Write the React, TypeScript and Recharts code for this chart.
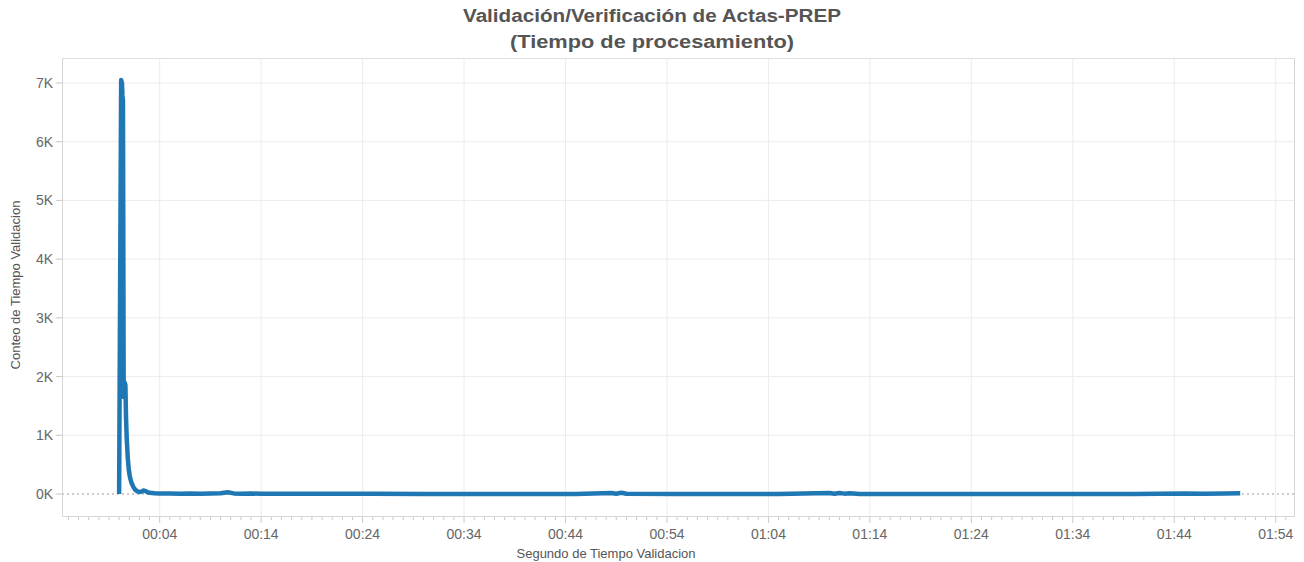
import React from 'react';
import { LineChart, Line, XAxis, YAxis, CartesianGrid, ReferenceLine } from 'recharts';

// Segundo de Tiempo Validacion (segundos)
const segundos = [
  0, 0.1, 0.2, 0.28, 0.33, 0.38, 0.45, 0.55, 0.62, 0.68, 0.75, 0.85, 0.95, 1.05, 1.2, 1.4, 1.6, 1.8,
  2.0, 2.2, 2.4, 2.6, 2.8, 3.0, 3.5, 4, 5, 6, 7, 8, 9, 10, 10.7, 11.3, 12, 13, 14, 16, 20, 25, 30,
  35, 40, 45, 48.5, 49, 49.5, 50, 55, 60, 65, 70, 70.5, 71, 71.5, 72, 73, 80, 90, 100, 105, 107,
  109, 110.5,
];

// Conteo de Tiempo Validacion
const conteo = [
  0, 3600, 7050, 7000, 6780, 6700, 1650, 1900, 1850, 1300, 950, 620, 420, 300, 200, 120, 70, 45,
  35, 40, 60, 50, 30, 20, 14, 10, 8, 6, 9, 5, 8, 12, 30, 10, 6, 8, 4, 3, 2, 2, 1,
  1, 1, 1, 15, 5, 20, 3, 1, 1, 1, 15, 5, 18, 6, 12, 1, 1, 1, 1, 8, 3,
  10, 12,
];

const yTicks = [0, 1000, 2000, 3000, 4000, 5000, 6000, 7000];
const majorTicks = [4, 14, 24, 34, 44, 54, 64, 74, 84, 94, 104, 114];
const allTicks = Array.from({ length: 121 }, (_, i) => i - 5);

const data = segundos.map((s, i) => ({ segundo: s, conteo: conteo[i] }));

const fmtTime = (v: number) => {
  const m = Math.floor(v / 60);
  const s = v % 60;
  return `${String(m).padStart(2, '0')}:${String(s).padStart(2, '0')}`;
};

const XTick = (props: any) => {
  const { x, y, payload } = props;
  const major = majorTicks.includes(payload.value);
  return (
    <g>
      <line x1={x} x2={x} y1={y} y2={y + (major ? 6 : 3)} stroke="#c8c8c8" />
      {major && (
        <text x={x} y={y + 22} textAnchor="middle" fill="#666" fontSize={14} fontFamily="Liberation Sans, Arial, sans-serif">
          {fmtTime(payload.value)}
        </text>
      )}
    </g>
  );
};

export default function App() {
  return (
    <div style={{ position: 'absolute', left: 0, top: 0, width: 1304, height: 562, background: '#fff', fontFamily: 'Liberation Sans, Arial, sans-serif' }}>
      <svg width={1304} height={58} style={{ position: 'absolute', left: 0, top: 0 }}>
        <text x={652} y={22} textAnchor="middle" fill="#555" fontSize={18} fontWeight="bold" textLength={378} lengthAdjust="spacingAndGlyphs">
          Validación/Verificación de Actas-PREP
        </text>
        <text x={652} y={48} textAnchor="middle" fill="#555" fontSize={18} fontWeight="bold" textLength={284} lengthAdjust="spacingAndGlyphs">
          (Tiempo de procesamiento)
        </text>
      </svg>
      <LineChart width={1304} height={562} data={data} margin={{ top: 58, right: 9, bottom: 0, left: 0 }}>
        <CartesianGrid vertical={false} stroke="#ececec" horizontalValues={yTicks.slice(1)} />
        {majorTicks.map((t) => (
          <ReferenceLine key={t} x={t} stroke="#ececec" />
        ))}
        <XAxis
          dataKey="segundo"
          type="number"
          domain={[-5.63, 115.9]}
          allowDataOverflow
          ticks={allTicks}
          interval={0}
          tick={<XTick />}
          tickLine={false}
          tickSize={0}
          tickMargin={0}
          axisLine={false}
          height={45}
        />
        <YAxis
          type="number"
          domain={[-392, 7426]}
          allowDataOverflow
          ticks={yTicks}
          interval={0}
          width={62}
          tickSize={6}
          tickMargin={3}
          tickLine={{ stroke: '#c8c8c8' }}
          axisLine={false}
          tickFormatter={(v: number) => `${v / 1000}K`}
          tick={{ fill: '#666', fontSize: 14 }}
        />
        <ReferenceLine y={0} stroke="#999" strokeDasharray="2 3" />
        <Line
          type="linear"
          dataKey="conteo"
          stroke="#1f77b4"
          strokeWidth={4.5}
          strokeLinejoin="round"
          dot={false}
          isAnimationActive={false}
        />
      </LineChart>
      <div style={{ position: 'absolute', left: 62, top: 58, width: 1233, height: 459, border: '1px solid #d6d6d6', borderTopColor: '#e0e0e0', boxSizing: 'border-box', pointerEvents: 'none' }} />
      <div style={{ position: 'absolute', left: 15, top: 285, transform: 'translate(-50%, -50%) rotate(-90deg)', whiteSpace: 'nowrap', fontSize: 13, color: '#555' }}>
        Conteo de Tiempo Validacion
      </div>
      <div style={{ position: 'absolute', left: 606, top: 553, transform: 'translate(-50%, -50%)', whiteSpace: 'nowrap', fontSize: 13, color: '#555' }}>
        Segundo de Tiempo Validacion
      </div>
    </div>
  );
}
